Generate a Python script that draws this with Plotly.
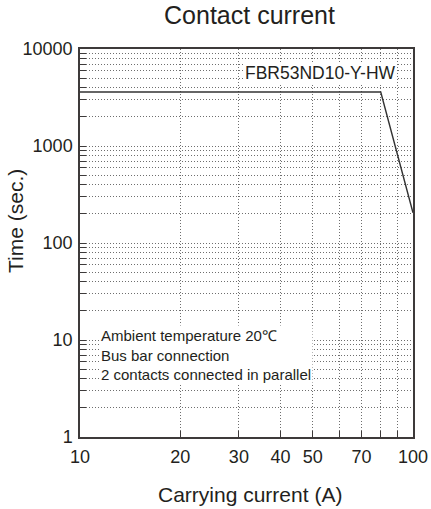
import plotly.graph_objects as go

# Data
current_a = [10, 80, 100]
time_s = [3600, 3600, 205]

x_tickvals = [10, 20, 30, 40, 50, 70, 100]
x_ticktext = ["10", "20", "30", "40", "50", "70", "100"]
x_minor = [60, 80, 90]
y_tickvals = [1, 10, 100, 1000, 10000]
y_ticktext = ["1", "10", "100", "1000", "10000"]
y_minor = [m * 10 ** d for d in range(4) for m in range(2, 10)]

title_text = "Contact current"
x_title = "Carrying current (A)"
y_title = "Time (sec.)"
model_label = "FBR53ND10-Y-HW"
conditions = ["Ambient temperature 20\u2103", "Bus bar connection", "2 contacts connected in parallel"]

TXT = "#231f20"
AX = "#3d3a3a"
GRID = "#6e6e6e"
DOT = "1px,2px"
FONT = "Liberation Sans, Arial, sans-serif"

L, R, T, B = 80, 413, 49, 437
PW, PH = R - L, B - T


def px(x):
    return (x - L) / PW


def py(y):
    return 1 - (y - T) / PH


fig = go.Figure()
fig.add_trace(go.Scatter(x=current_a, y=time_s, mode="lines",
                         line=dict(color="#333333", width=1.4), showlegend=False,
                         hoverinfo="skip"))

fig.update_layout(
    width=431, height=509,
    margin=dict(l=L, r=431 - R, t=T, b=509 - B, autoexpand=False),
    paper_bgcolor="white", plot_bgcolor="white",
    font=dict(family=FONT, color=TXT, size=18),
    title=dict(text=title_text, x=249.5 / 431, xanchor="center", y=1 - 15.5 / 509, yanchor="middle",
               font=dict(size=25, color=TXT, family=FONT)),
    showlegend=False,
)

fig.update_xaxes(
    type="log", range=[1, 2], automargin=False,
    tickmode="array", tickvals=x_tickvals, ticktext=x_ticktext,
    ticks="inside", ticklen=6, tickcolor=AX, tickwidth=1,
    showline=True, linecolor=AX, linewidth=1.5, mirror=True,
    showgrid=True, gridcolor=GRID, griddash=DOT, gridwidth=1,
    ticklabelstandoff=3,
    tickfont=dict(size=18, color=TXT),
    minor=dict(tickmode="array", tickvals=x_minor, ticks="inside", ticklen=6,
               tickcolor=AX, showgrid=True, gridcolor=GRID, griddash=DOT, gridwidth=1),
    zeroline=False,
)
fig.update_yaxes(
    type="log", range=[0, 4], automargin=False,
    tickmode="array", tickvals=y_tickvals, ticktext=y_ticktext,
    ticks="inside", ticklen=6, tickcolor=AX, tickwidth=1,
    showline=True, linecolor=AX, linewidth=1.5, mirror=True,
    showgrid=True, gridcolor=GRID, griddash=DOT, gridwidth=1,
    ticklabelstandoff=2,
    tickfont=dict(size=18, color=TXT),
    minor=dict(tickmode="array", tickvals=y_minor, ticks="inside", ticklen=6,
               tickcolor=AX, showgrid=True, gridcolor=GRID, griddash=DOT, gridwidth=1),
    zeroline=False,
)

# axis titles
fig.add_annotation(x=px(250.5), y=py(495), xref="paper", yref="paper", text=x_title,
                   showarrow=False, xanchor="center", yanchor="middle",
                   font=dict(size=21, color=TXT))
fig.add_annotation(x=px(15), y=py(221), xref="paper", yref="paper",
                   text=y_title, showarrow=False, textangle=-90,
                   xanchor="center", yanchor="middle", font=dict(size=21, color=TXT))

fig.add_annotation(x=px(397), y=py(73), xref="paper", yref="paper",
                   text=model_label, showarrow=False, xanchor="right", yanchor="middle",
                   font=dict(size=17.5, color=TXT), bgcolor="white", borderpad=0)
fig.add_annotation(x=px(99), y=py(355), xref="paper", yref="paper",
                   text="<br>".join(conditions), showarrow=False, align="left",
                   xanchor="left", yanchor="middle",
                   font=dict(size=15, color=TXT), bgcolor="white", borderpad=1)

fig.write_html("out.html")
